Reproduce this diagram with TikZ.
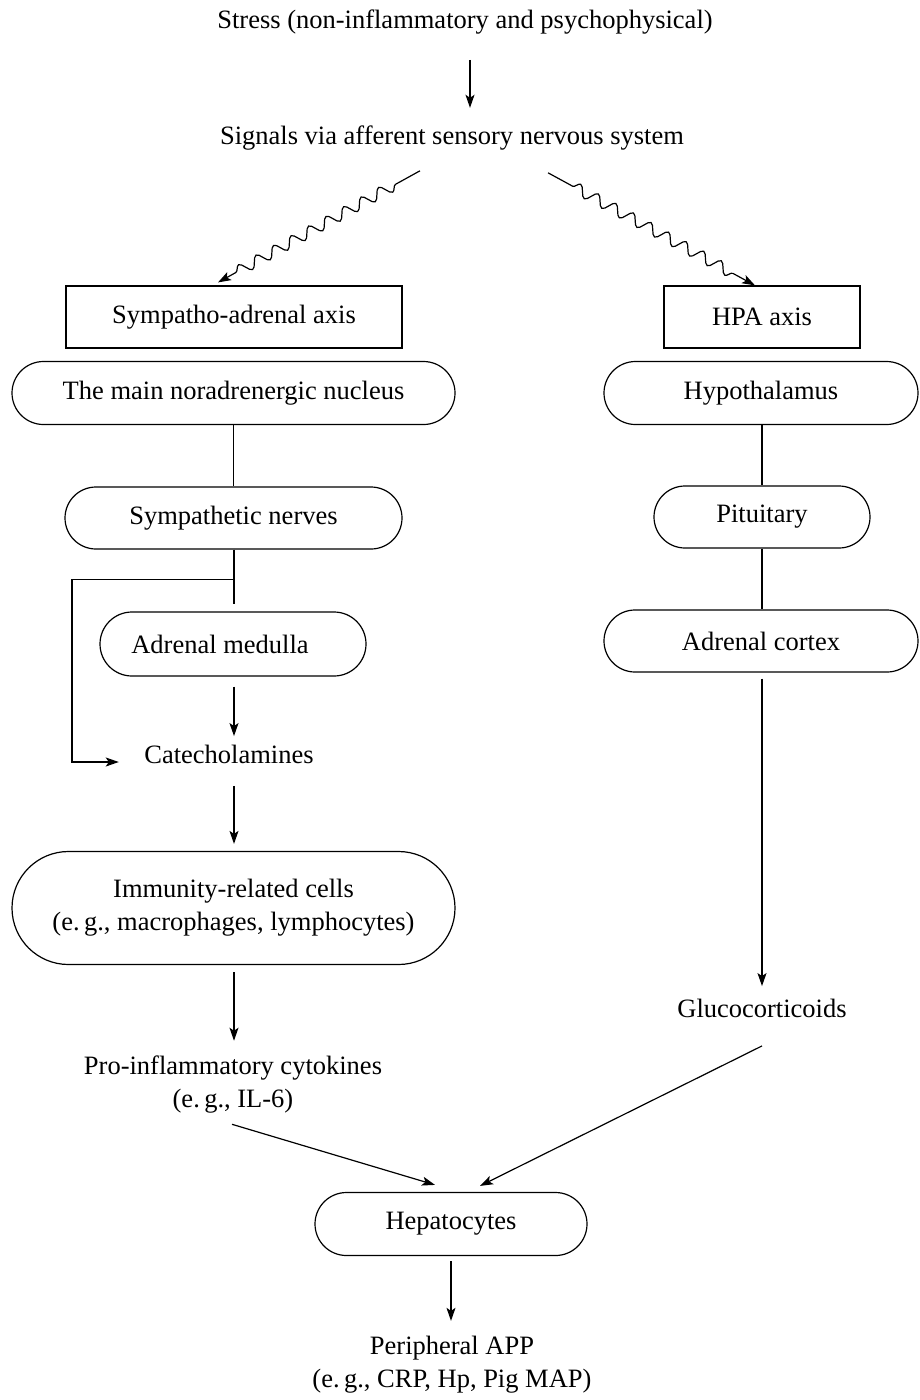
\documentclass[tikz,border=0pt]{standalone}
\usepackage{fontspec}
\setmainfont{Liberation Serif}
\usetikzlibrary{shapes.misc,arrows.meta,decorations.pathmorphing,calc}

\begin{document}
\begin{tikzpicture}[x=1pt,y=-1pt,
  font=\fontsize{26.5}{33}\selectfont,
  line width=1.2pt,
  axisbox/.style={draw, rectangle, inner sep=0pt},
  pill/.style={draw, rounded rectangle, inner sep=0pt, align=center},
  lbl/.style={inner sep=0pt, align=center},
  arr/.style={-{Stealth[length=13pt,width=9pt,inset=3pt]}},
  wavy/.style={arr, decorate, decoration={snake, amplitude=5.5pt,
      segment length=20pt, pre length=28pt, post length=16pt}}]

\useasboundingbox (0,0) rectangle (920,1400);

% header
\node[lbl] (stress)  at (465,22)  {Stress (non-inflammatory and psychophysical)};
\node[lbl] (signals) at (452,138) {Signals via afferent sensory nervous system};

% sympatho-adrenal branch
\node[axisbox, minimum width=336pt, minimum height=62pt] (sym) at (234,317) {Sympatho-adrenal axis};
\node[pill, minimum width=443pt, minimum height=63pt] (nucleus) at (233.5,393) {The main noradrenergic nucleus};
\node[pill, minimum width=337pt, minimum height=62pt] (nerves) at (233.5,518) {Sympathetic nerves};
\node[pill, minimum width=266pt, minimum height=64pt] (medulla) at (233,644) {\hspace*{-26pt}Adrenal medulla};
\node[lbl] (catechol) at (229,754) {Catecholamines};
\node[pill, minimum width=443pt, minimum height=113pt] (immune) at (233.5,908)
  {Immunity-related cells\\(e.\,g., macrophages, lymphocytes)};
\node[lbl] (cyto) at (233,1085) {Pro-inflammatory cytokines\\(e.\,g., IL-6)};

% HPA branch
\node[axisbox, minimum width=196pt, minimum height=62pt] (hpa) at (762,317) {HPA axis};
\node[pill, minimum width=314pt, minimum height=63pt] (hypo) at (761,393) {Hypothalamus};
\node[pill, minimum width=216pt, minimum height=62pt] (pit) at (762,517) {Pituitary};
\node[pill, minimum width=314pt, minimum height=62pt] (cortex) at (761,641) {Adrenal cortex};
\node[lbl] (gluco) at (762,1008) {Glucocorticoids};

% convergence
\node[pill, minimum width=272pt, minimum height=63pt] (hep) at (451,1224) {Hepatocytes};
\node[lbl] (app) at (452,1365) {Peripheral APP\\(e.\,g., CRP, Hp, Pig MAP)};

% connectors
\draw[arr] ($(stress.south)+(5,25)$) -- ($(stress.south)+(5,73)$);
\draw[wavy] ($(signals.south)+(-32,20)$) -- ($(sym.north)+(-16,-3)$);
\draw[wavy] ($(signals.south)+(96,22)$) -- ($(hpa.north)+(-7,0)$);

\draw (nucleus.south) -- (nerves.north);
\coordinate (branch) at ($(nerves.south)+(0.5,30)$);
\draw ($(nerves.south)+(0.5,0)$) -- ($(medulla.north)+(1,-7)$);
\draw[arr] (branch) -- ++(-162,0) |- ($(catechol.west)+(-25,8)$);
\draw[arr] ($(medulla.south)+(1,10)$) -- ($(catechol.north)+(5,-8)$);
\draw[arr] ($(catechol.south)+(5,22)$) -- ($(immune.north)+(0.5,-7)$);
\draw[arr] ($(immune.south)+(0.5,7)$) -- ($(cyto.north)+(1,-15)$);

\draw ($(hypo.south)+(1,0)$) -- (pit.north);
\draw (pit.south) -- ($(cortex.north)+(1,0)$);
\draw[arr] ($(cortex.south)+(1,6)$) -- ($(gluco.north)+(0,-12)$);

\draw[arr] ($(cyto.south)+(-1,10)$) -- ($(hep.north)+(-16,-7)$);
\draw[arr] ($(gluco.south)+(0,28)$) -- ($(hep.north)+(29,-6)$);
\draw[arr] ($(hep.south)+(0,5)$) -- ($(app.north)+(-1,-15)$);
\end{tikzpicture}
\end{document}
